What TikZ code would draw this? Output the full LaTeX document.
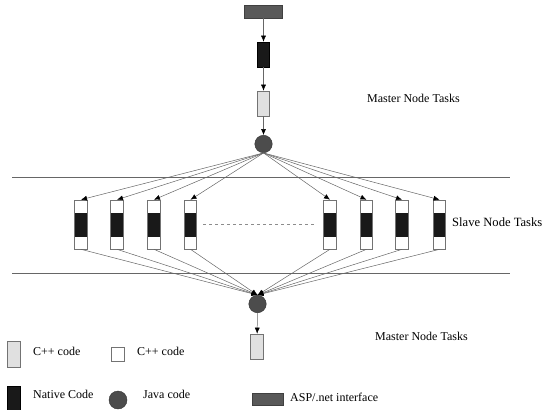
\documentclass[tikz,border=0pt]{standalone}
\usepackage{fontspec}
\setmainfont{Liberation Serif}
\usetikzlibrary{arrows.meta}

\begin{document}
\begin{tikzpicture}[x=1pt, y=-1pt, font=\fontsize{12}{14}\selectfont,
  box/.style={draw=black!55, line width=0.6pt, inner sep=0pt, minimum width=12.5pt},
  cppbox/.style={box, fill=black!12, minimum height=25pt},
  nativebox/.style={box, fill=black!90, draw=black, minimum height=25pt},
  javadot/.style={circle, fill=black!70, draw=black!80, inner sep=0pt, minimum size=17.5pt},
  aspbox/.style={box, fill=black!65, draw=black!75, minimum width=38pt, minimum height=13pt},
  slavebox/.style={box, fill=white, minimum height=49pt,
    path picture={\fill[black!90] ([yshift=-13pt]path picture bounding box.north west)
      rectangle ([yshift=12pt]path picture bounding box.south east);}},
  link/.style={draw=black!60, line width=0.5pt, -{Latex[color=black, length=6pt, width=5pt]}},
  tasktext/.style={anchor=west, inner sep=0pt}]
  \useasboundingbox (0,0) rectangle (545,409);
  \node[aspbox]    (asp)    at (263.5,11.5)  {};
  \node[nativebox] (native) at (263.5,54.5)  {};
  \node[cppbox]    (cpp)    at (263.5,103.5) {};
  \node[javadot]   (java)   at (263.5,144)   {};
  \node[javadot]   (join)   at (257.5,304)   {};
  \node[cppbox]    (result) at (257,346.5)   {};
  \draw[link] (asp) -- (native);
  \draw[link] (native) -- (cpp);
  \draw[link] (cpp) -- (java);
  \draw[link] (join) -- (result);
  \draw[black!60, line width=0.5pt] (12,177) -- (510,177);
  \draw[black!60, line width=0.5pt] (12,273) -- (510,273);
  \foreach \i/\x in {1/81, 2/117, 3/154, 4/190.5, 5/330, 6/366.5, 7/402, 8/439.5} {
    \node[slavebox] (s\i) at (\x,224.5) {};
    \draw[link] (java.south) -- (s\i.north);
    \draw[link] (s\i.south) -- (join.north);
  }
  \draw[black!45, dashed, line width=0.5pt] ([xshift=6pt]s4.east) -- ([xshift=-7pt]s5.west);
  \node[tasktext] (mastertop) at (367,98)  {Master Node Tasks};
  \node[tasktext, font=\fontsize{12.6}{15}\selectfont] (slavetext) at (452,222) {Slave Node Tasks};
  \node[tasktext] (masterlow) at (375,336) {Master Node Tasks};
  % legend
  \node[cppbox, minimum height=26pt] (keycpp) at (14,354) {};
  \node[tasktext] at (33,351) {C++ code};
  \node[box, fill=white, minimum height=14pt] (keywhite) at (118,354) {};
  \node[tasktext] at (137,351) {C++ code};
  \node[nativebox, minimum height=24pt] (keynative) at (14,398) {};
  \node[tasktext] at (33,394) {Native Code};
  \node[javadot, minimum size=18pt] (keyjava) at (118,400) {};
  \node[tasktext] at (143,394) {Java code};
  \node[aspbox, minimum width=31pt, minimum height=12pt] (keyasp) at (267.5,399) {};
  \node[tasktext] at (290,397) {ASP/.net interface};
\end{tikzpicture}
\end{document}
